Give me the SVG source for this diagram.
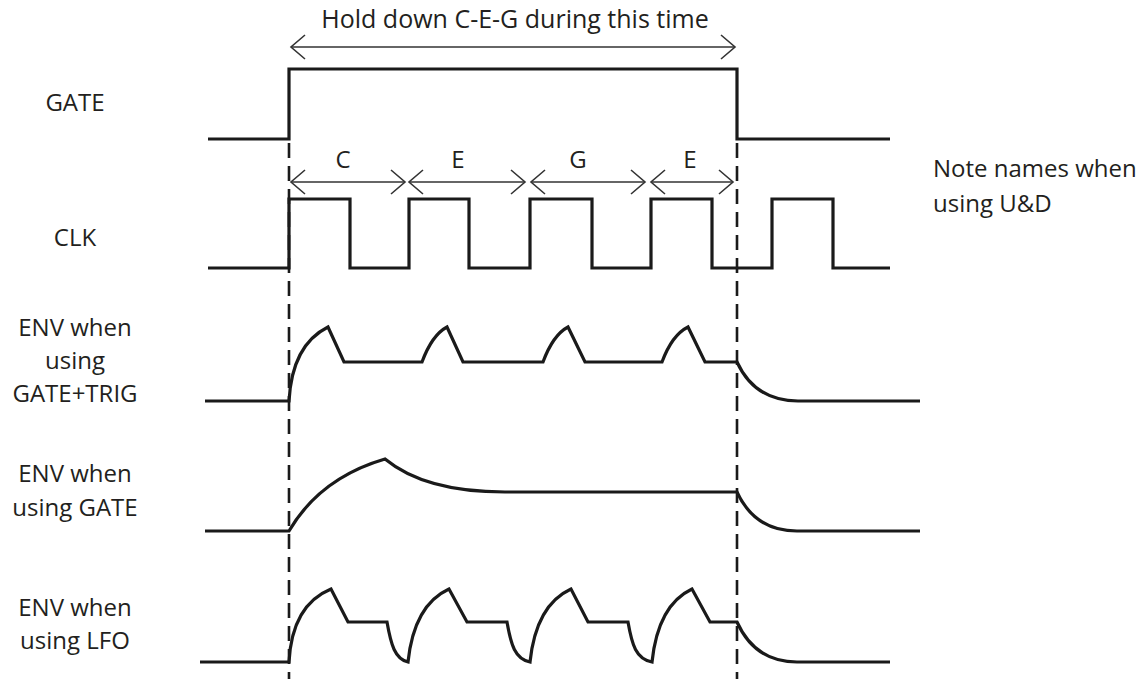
<svg xmlns="http://www.w3.org/2000/svg" width="1148" height="679" viewBox="0 0 1148 679">
<style>
.sig{fill:none;stroke:#1a1a1a;stroke-width:3.2;stroke-linejoin:miter;stroke-linecap:butt}
.dash{fill:none;stroke:#1a1a1a;stroke-width:2.6;stroke-dasharray:15 8}
.arr{fill:none;stroke:#333;stroke-width:1.6;marker-start:url(#chev);marker-end:url(#chev)}
.lbl{font-family:"Open Sans","Noto Sans",sans-serif;font-size:24px;fill:#231f20}
.mid{text-anchor:middle}
</style>
<defs>
<marker id="chev" viewBox="-16 -14 18 28" refX="0" refY="0" markerWidth="18" markerHeight="28" markerUnits="userSpaceOnUse" orient="auto-start-reverse">
<path d="M-14,-12 L0,0 L-14,12" fill="none" stroke="#333" stroke-width="1.6"/>
</marker>
</defs>
<rect width="1148" height="679" fill="#fff"/>
<g id="labels">
<text class="lbl mid" x="75" y="111">GATE</text>
<text class="lbl mid" x="75" y="246">CLK</text>
<text class="lbl mid" x="75" y="336">ENV when</text>
<text class="lbl mid" x="75" y="369">using</text>
<text class="lbl mid" x="75" y="402">GATE+TRIG</text>
<text class="lbl mid" x="75" y="482">ENV when</text>
<text class="lbl mid" x="75" y="516">using GATE</text>
<text class="lbl mid" x="75" y="616">ENV when</text>
<text class="lbl mid" x="75" y="649">using LFO</text>
</g>
<g id="gate">
<path class="sig" d="M208,139 H289 V69 H737 V139 H890"/>
</g>
<g id="clk">
<path class="sig" d="M208,268 H289 V199 H350 V268 H409 V199 H469 V268 H530 V199 H592 V268 H651 V199 H712 V268 H772 V199 H833 V268 H890"/>
</g>
<g id="env-gate-trig">
<path class="sig" d="M205,401 H289 Q292,345 328,327 L344,362 H422 Q432,335 447,327 L463,362 H543 Q553,335 568,327 L585,362 H662 Q672,335 688,327 L705,362 H737 Q755,401 798,401 H920"/>
</g>
<g id="env-gate">
<path class="sig" d="M205,531 H289 Q320,478 385,459 Q425,492 505,492 H737 Q755,531 797,531 H920"/>
</g>
<g id="env-lfo">
<path class="sig" d="M200,662 H289 Q292,605 331,589 L348,622 H387 C391,645 395,659 408,662 Q414,605 449,589 L467,622 H507 C511,645 515,659 530,662 Q536,605 571,589 L588,622 H628 C632,645 636,659 652,662 Q658,605 692,589 L710,622 H737 Q755,662 797,662 H890"/>
</g>
<g id="markers">
<line class="dash" x1="289" y1="143" x2="289" y2="679"/>
<line class="dash" x1="737" y1="143" x2="737" y2="679"/>
</g>
<g id="connectors">
<line class="arr" x1="291" y1="47" x2="735" y2="47"/>
<line class="arr" x1="291" y1="182" x2="405" y2="182"/>
<line class="arr" x1="409" y1="182" x2="525" y2="182"/>
<line class="arr" x1="531" y1="182" x2="645" y2="182"/>
<line class="arr" x1="651" y1="182" x2="733" y2="182"/>
</g>
<g id="annotations">
<text class="lbl mid" x="515" y="28" style="font-size:25px">Hold down C-E-G during this time</text>
<text class="lbl mid" x="343" y="168">C</text>
<text class="lbl mid" x="458" y="168">E</text>
<text class="lbl mid" x="578" y="168">G</text>
<text class="lbl mid" x="690" y="168">E</text>
<text class="lbl" x="933" y="177">Note names when</text>
<text class="lbl" x="933" y="212">using U&amp;D</text>
</g>
</svg>
